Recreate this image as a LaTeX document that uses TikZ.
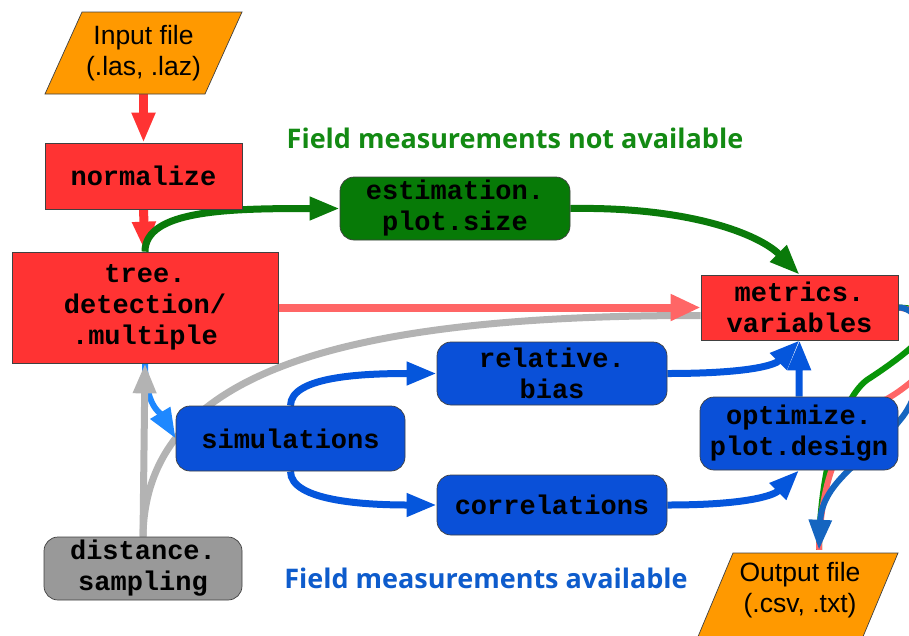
\documentclass[tikz,border=0pt]{standalone}
\usepackage{fontspec}
\setmainfont{Liberation Sans}
\newfontfamily\monof{Liberation Mono}
\newfontfamily\titlef{Open Sans}
\usetikzlibrary{arrows.meta}
\definecolor{cOrange}{HTML}{FF9900}
\definecolor{cRed}{HTML}{FF3333}
\definecolor{cGreenBox}{HTML}{077A07}
\definecolor{cBlueBox}{HTML}{0A50D8}
\definecolor{cGrayBox}{HTML}{999999}
\definecolor{cGreenLine}{HTML}{0A7A0A}
\definecolor{cBlueLine}{HTML}{0556DC}
\definecolor{cLightBlue}{HTML}{1E88FF}
\definecolor{cDarkBlue}{HTML}{1565C0}
\definecolor{cSalmon}{HTML}{FF6666}
\definecolor{cGrayLine}{HTML}{B3B3B3}
\definecolor{cTitleGreen}{HTML}{138A13}
\definecolor{cTitleBlue}{HTML}{0E5CCC}
\pgfdeclarelayer{edges}
\pgfsetlayers{edges,main}
\tikzset{
  box/.style={draw=black!75, line width=0.7pt, align=center, inner sep=0pt, text=black,
    font=\monof\bfseries\fontsize{27}{31}\selectfont},
  redbox/.style={box, fill=cRed},
  rbox/.style={box, rounded corners=14pt},
  iotext/.style={align=center, inner sep=0pt, minimum width=160pt, minimum height=82pt,
    font=\fontsize{26.5}{31}\selectfont},
  iofill/.style={fill=cOrange, draw=black!75, line width=0.7pt},
  tip/.style={-{Triangle[length=30pt,width=22pt]}},
  redarrow/.style={tip, draw=cRed, line width=9pt},
  greenarrow/.style={tip, draw=cGreenLine, line width=7pt},
  bluearrow/.style={tip, draw=cBlueLine, line width=7pt},
  salmonarrow/.style={-{Triangle[length=30pt,width=25pt]}, draw=cSalmon, line width=8pt},
  grayarrow/.style={tip, draw=cGrayLine, line width=7pt},
  titletext/.style={font=\titlef\bfseries\fontsize{27}{30}\selectfont},
}
\begin{document}
\begin{tikzpicture}[x=1pt,y=-1pt]
\useasboundingbox (0,0) rectangle (909,635);
% input / output shapes
\filldraw[iofill] (45,94) -- (82,12) -- (242,12) -- (205,94) -- cycle;
\node[iotext] (in) at (143.5,53) {Input file\\(.las, .laz)};
\filldraw[iofill] (697,639) -- (733,553) -- (898,553) -- (862,639) -- cycle;
\node[iotext, minimum height=80pt] (out) at (800,590) {Output file\\(.csv, .txt)};
% boxes
\node[redbox, minimum width=197pt, minimum height=66pt] (norm) at (143.5,176) {normalize};
\node[redbox, minimum width=266pt, minimum height=111pt] (tree) at (145,307.5) {tree.\\detection/\\.multiple};
\node[rbox, fill=cGreenBox, minimum width=230pt, minimum height=63pt] (est) at (455,208.5) {estimation.\\plot.size};
\node[redbox, minimum width=197pt, minimum height=65pt] (met) at (799.5,307.5) {metrics.\\variables};
\node[rbox, fill=cBlueBox, minimum width=230pt, minimum height=63pt] (rel) at (552,373.5) {relative.\\bias};
\node[rbox, fill=cBlueBox, minimum width=229pt, minimum height=65pt] (sim) at (290.5,438.5) {simulations};
\node[rbox, fill=cBlueBox, minimum width=230pt, minimum height=60pt] (corr) at (552,505) {correlations};
\node[rbox, fill=cBlueBox, minimum width=198pt, minimum height=73pt] (opt) at (799,433.5) {optimize.\\plot.design};
\node[rbox, fill=cGrayBox, minimum width=198pt, minimum height=63pt] (dist) at (143,568.5) {distance.\\sampling};
% titles
\node[titletext, text=cTitleGreen] (t1) at (515,138) {Field measurements not available};
\node[titletext, text=cTitleBlue] (t2) at (486,578) {Field measurements available};
\coordinate (outin) at ([xshift=19pt]out.north);
\begin{pgfonlayer}{edges}
\draw[redarrow] (in.south) -- (norm.north);
\draw[redarrow] (norm.south) -- (tree.north);
\draw[greenarrow] (tree.north) .. controls +(0,-42) and +(-110,0) .. (est.west);
\draw[greenarrow] (est.east) .. controls +(120,-2) and +(-40,-40) .. (met.north);
\draw[draw=cGrayLine, line width=7pt] (dist.north) .. controls (145,380) and (320,315) .. ([yshift=-8pt]met.west);
\draw[tip, draw=cLightBlue, line width=6pt] (tree.south) .. controls +(0,42) and +(-15,-25) .. (sim.west);
\draw[grayarrow] (dist.north) -- (tree.south);
\draw[salmonarrow] (tree.east) -- (met.west);
\draw[bluearrow] (sim.north) .. controls +(0,-30) and +(-70,0) .. (rel.west);
\draw[bluearrow] (sim.south) .. controls +(0,30) and +(-70,0) .. (corr.west);
\draw[bluearrow] (rel.east) .. controls +(80,0) and +(-25,25) .. (met.south);
\draw[bluearrow] (corr.east) .. controls +(80,0) and +(-25,25) .. (opt.south);
\draw[bluearrow] (opt.north) -- (met.south);
\draw[draw=cGreenLine!80!green, line width=6pt] (met.east) .. controls (960,310) and (920,345) .. (870,378) .. controls (845,392) and (820,460) .. (outin);
\draw[draw=cSalmon, line width=6pt] (met.east) .. controls (975,320) and (930,375) .. (885,400) .. controls (845,425) and (821,470) .. (outin);
\draw[tip, draw=cDarkBlue, line width=6pt] (met.east) .. controls (932,307) and (930,385) .. (900,420) .. controls (870,458) and (822,480) .. (outin);
\end{pgfonlayer}
\end{tikzpicture}
\end{document}
